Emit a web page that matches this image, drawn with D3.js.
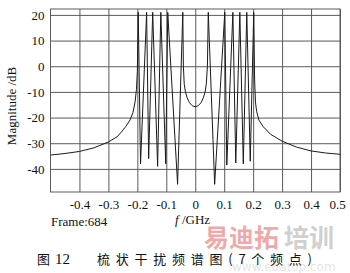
<!DOCTYPE html>
<html>
<head>
<meta charset="utf-8">
<script src="https://cdn.jsdelivr.net/npm/d3@7"></script>
<style>
  body { margin: 0; background: #fff; }
  svg { display: block; }
</style>
</head>
<body>
<div id="chart"></div>
<script>
// ***************** data *****************
const freqs = [
  -0.5, -0.45, -0.4, -0.35, -0.3, -0.27, -0.255, -0.24, -0.225, -0.215, -0.208, -0.203, -0.2,
  -0.197, -0.189, -0.168, -0.161, -0.147, -0.130, -0.119, -0.102, -0.095, -0.061, -0.043,
  -0.041, -0.038, -0.034, -0.028, -0.02, -0.01, 0, 0.01, 0.02, 0.028, 0.034, 0.038, 0.042,
  0.045, 0.067, 0.102, 0.109, 0.130, 0.140, 0.154, 0.166, 0.178, 0.190, 0.202,
  0.205, 0.208, 0.212, 0.22, 0.235, 0.26, 0.3, 0.35, 0.4, 0.45, 0.5
]
const magDb = [
  -34.6, -34.0, -33.2, -31.8, -29.5, -27.5, -25.6, -23.5, -20.9, -18, -14, -9, -2,
  21, -38, 21, -36, 21, -39, 21, -38, 21, -46, 21,
  0, -7, -10, -12.3, -14.2, -15.4, -15.8, -15.4, -14.2, -12.3, -10, -7, 0,
  21, -46, 21, -38.5, 21, -37.7, 21, -38, 21, -37, 21,
  -5, -14, -17.5, -21, -23.6, -26.5, -29.2, -31.5, -33, -33.8, -34.3
]
const xTicks = [-0.4, -0.3, -0.2, -0.1, 0, 0.1, 0.2, 0.3, 0.4, 0.5]
const yTicks = [20, 10, 0, -10, -20, -30, -40]

const width = 350
const height = 273
const plot = { left: 50.5, right: 340, top: 9, bottom: 192 }

const svg = d3.select("#chart")
  .append("svg")
  .attr("width", width)
  .attr("height", height)

const x = d3.scaleLinear().domain([-0.5, 0.5]).range([plot.left, plot.right])
const y = d3.scaleLinear().domain([-49, 22.3]).range([plot.bottom, plot.top])

const serif = "'Liberation Serif', 'DejaVu Serif', serif"
const cjk = "'Noto Sans CJK SC', sans-serif"

// ***************** axes with grid *****************
const xAxis = svg.append("g")
  .attr("transform", "translate(0," + plot.bottom + ")")
  .call(d3.axisBottom(x)
    .tickValues(xTicks)
    .tickSize(-(plot.bottom - plot.top))
    .tickPadding(8)
    .tickFormat(d => d === 0 ? "0" : String(d)))
xAxis.select(".domain").remove()
xAxis.selectAll("line").attr("stroke", "#5a5a5a").attr("stroke-width", 1)
xAxis.selectAll("text")
  .style("font-family", serif)
  .style("font-size", "13px")
  .attr("fill", "#111")
  .attr("dx", d => d === 0.5 ? -3 : 0)

const yAxis = svg.append("g")
  .attr("transform", "translate(" + plot.left + ",0)")
  .call(d3.axisLeft(y)
    .tickValues(yTicks)
    .tickSize(-(plot.right - plot.left))
    .tickPadding(6)
    .tickFormat(d => String(d)))
yAxis.select(".domain").remove()
yAxis.selectAll("line").attr("stroke", "#5a5a5a").attr("stroke-width", 1)
yAxis.selectAll("text")
  .style("font-family", serif)
  .style("font-size", "13px")
  .attr("fill", "#111")

// frame
svg.append("rect")
  .attr("x", plot.left)
  .attr("y", plot.top)
  .attr("width", plot.right - plot.left)
  .attr("height", plot.bottom - plot.top)
  .attr("fill", "none")
  .attr("stroke", "#5a5a5a")
  .attr("stroke-width", 1)

// ***************** spectrum curve *****************
svg.append("clipPath").attr("id", "clip")
  .append("rect")
  .attr("x", plot.left)
  .attr("y", plot.top)
  .attr("width", plot.right - plot.left)
  .attr("height", plot.bottom - plot.top)

const line = d3.line()
  .x(i => x(freqs[i]))
  .y(i => y(magDb[i]))

svg.append("path")
  .datum(d3.range(freqs.length))
  .attr("clip-path", "url(#clip)")
  .attr("d", line)
  .attr("fill", "none")
  .attr("stroke", "#1a1a1a")
  .attr("stroke-width", 1)
  .attr("stroke-linejoin", "round")

// ***************** labels *****************
svg.append("text")
  .attr("transform", "translate(16,106) rotate(-90)")
  .attr("text-anchor", "middle")
  .style("font-family", serif)
  .style("font-size", "13px")
  .attr("fill", "#111")
  .text("Magnitude /dB")

svg.append("text")
  .attr("x", 51)
  .attr("y", 226)
  .style("font-family", serif)
  .style("font-size", "13px")
  .attr("fill", "#111")
  .text("Frame:684")

const fl = svg.append("text")
  .attr("x", 175)
  .attr("y", 224)
  .style("font-family", serif)
  .style("font-size", "13px")
  .attr("fill", "#111")
fl.append("tspan").style("font-style", "italic").text("f")
fl.append("tspan").text(" /GHz")

// watermark
svg.append("text")
  .attr("x", 204)
  .attr("y", 247)
  .style("font-family", cjk)
  .style("font-size", "25px")
  .style("font-weight", "bold")
  .attr("fill", "#ec9c9c")
  .attr("opacity", 0.85)
  .text("易迪拓")
svg.append("text")
  .attr("x", 284)
  .attr("y", 247)
  .style("font-family", cjk)
  .style("font-size", "25px")
  .style("font-weight", "bold")
  .attr("fill", "#c8c8c8")
  .attr("opacity", 0.85)
  .text("培训")
svg.append("text")
  .attr("x", 232)
  .attr("y", 271)
  .style("font-family", "'DejaVu Sans', sans-serif")
  .style("font-size", "12px")
  .attr("fill", "#e6e6e6")
  .text("www.edatop.com")

// caption
svg.append("text")
  .attr("x", 37)
  .attr("y", 264)
  .style("font-family", cjk)
  .style("font-size", "13px")
  .attr("fill", "#111")
  .text("图")
svg.append("text")
  .attr("x", 55)
  .attr("y", 264)
  .style("font-family", serif)
  .style("font-size", "15px")
  .attr("fill", "#111")
  .text("12")
svg.append("text")
  .attr("x", 97)
  .attr("y", 264)
  .attr("textLength", 215)
  .attr("lengthAdjust", "spacing")
  .style("font-family", cjk)
  .style("font-size", "13px")
  .attr("fill", "#111")
  .text("梳状干扰频谱图(7个频点)")
</script>
</body>
</html>
